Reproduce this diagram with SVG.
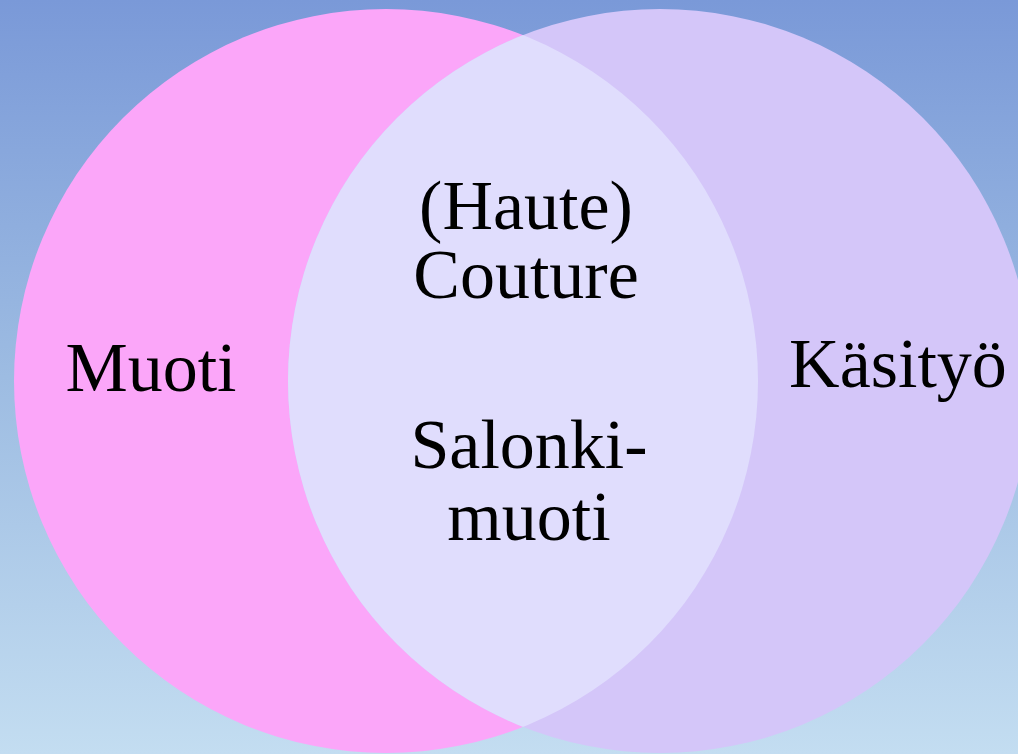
<svg xmlns="http://www.w3.org/2000/svg" width="1018" height="754" viewBox="0 0 1018 754">
<defs>
<linearGradient id="bg" x1="0" y1="0" x2="0" y2="1">
<stop offset="0" stop-color="#7a99d8"/>
<stop offset="0.5" stop-color="#9dbce2"/>
<stop offset="1" stop-color="#c3ddf1"/>
</linearGradient>
<clipPath id="clipL"><circle cx="386" cy="381" r="372"/></clipPath>
</defs>
<style>
.lbl{font-family:"Liberation Serif","Times New Roman",serif;font-size:70px;fill:#000;text-anchor:middle}
</style>
<rect id="background" x="0" y="0" width="1018" height="754" fill="url(#bg)"/>
<g id="muoti">
<circle cx="386" cy="381" r="372" fill="#fba6f9"/>
<text class="lbl" x="151" y="391">Muoti</text>
</g>
<g id="kasityo">
<circle cx="660" cy="381" r="372" fill="#d4c6f9"/>
<text class="lbl" x="898" y="387">Käsityö</text>
</g>
<g id="overlap">
<circle cx="660" cy="381" r="372" fill="#e0ddfd" clip-path="url(#clipL)"/>
<text class="lbl" x="526" y="229">(Haute)</text>
<text class="lbl" x="526" y="298">Couture</text>
<text class="lbl" x="529" y="468">Salonki-</text>
<text class="lbl" x="529" y="540">muoti</text>
</g>
<g id="connectors"/>
</svg>
